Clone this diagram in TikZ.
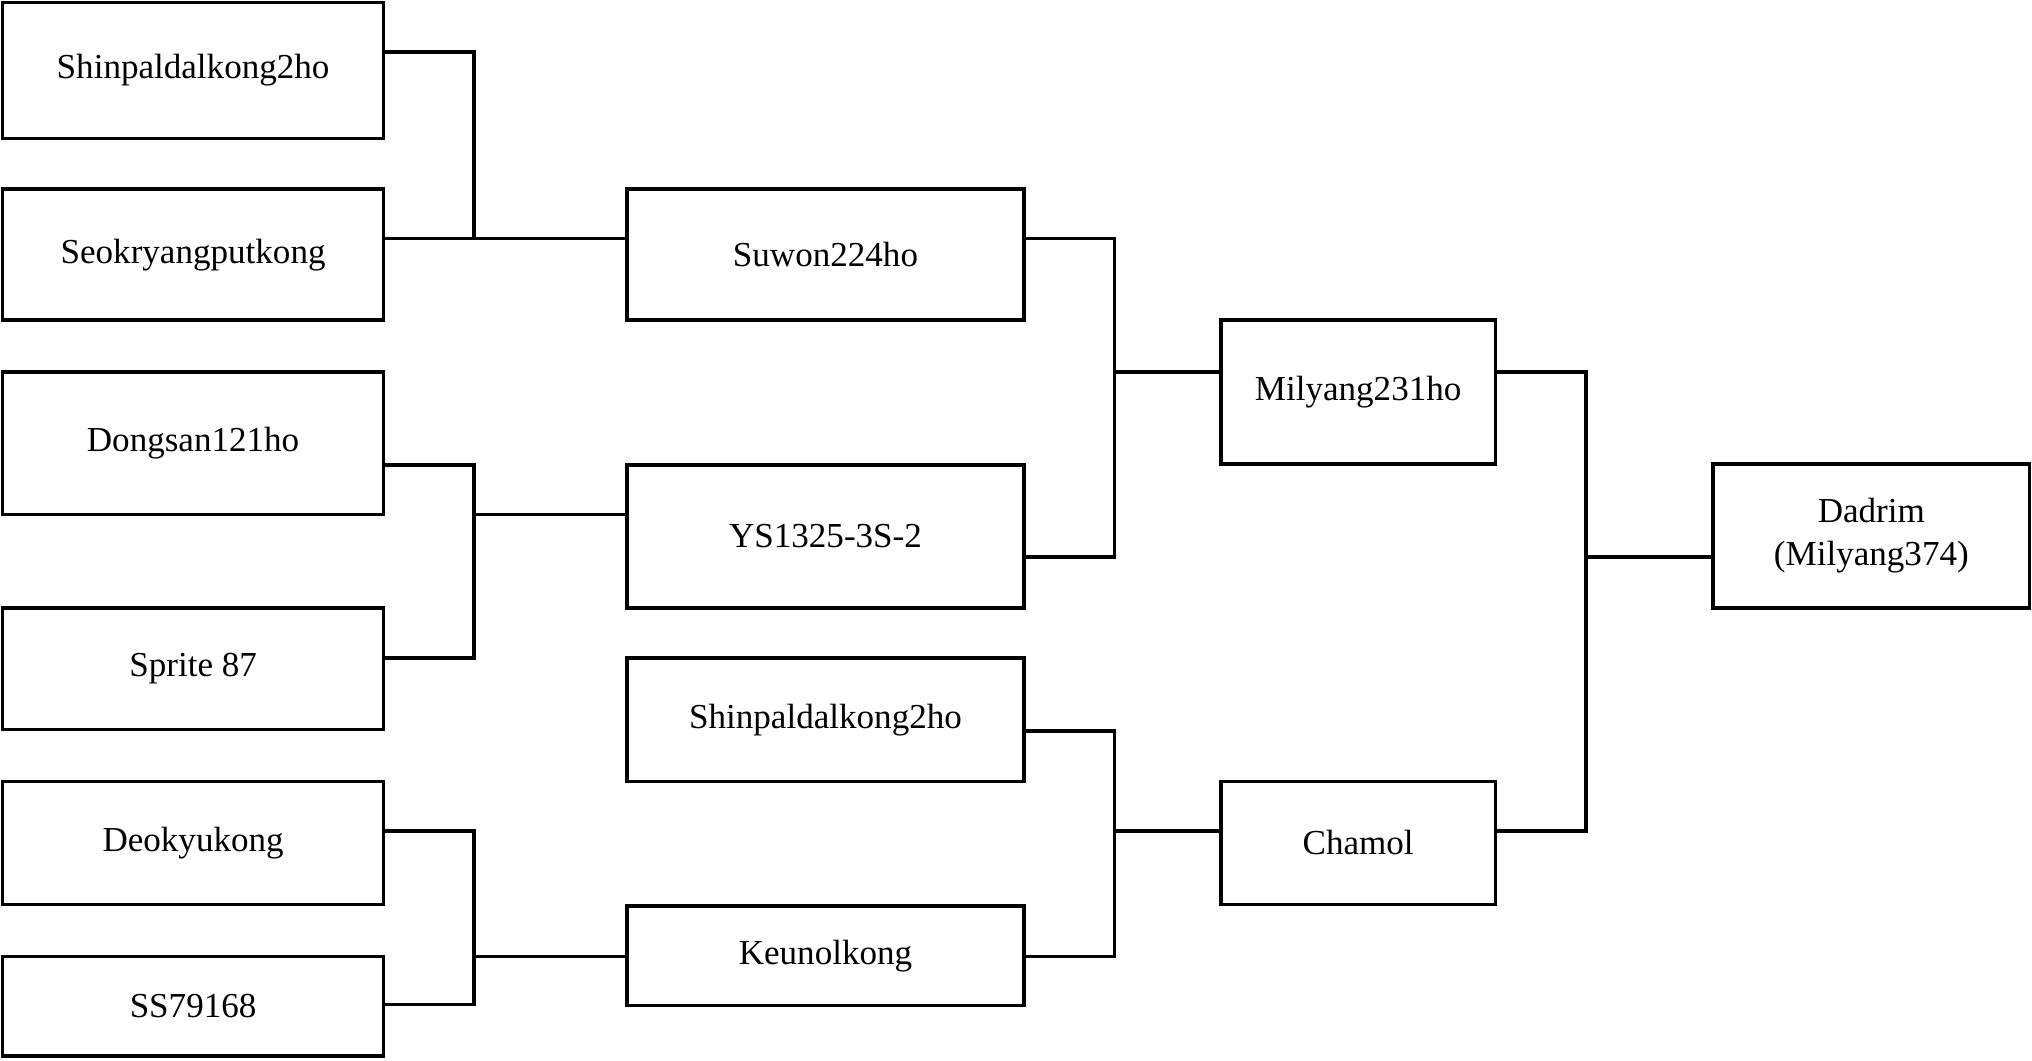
\documentclass[tikz,border=0pt]{standalone}
\usepackage{fontspec}
\setmainfont{Liberation Serif}
\usetikzlibrary{positioning, calc}

\begin{document}
\begin{tikzpicture}[
    box/.style={rectangle, draw, line width=0.8pt, inner sep=0pt, align=center, font=\fontsize{7.7}{9.5}\selectfont},
    link/.style={line width=0.8pt}
]
    \useasboundingbox (0,0) rectangle (15.68,-8.18);

    % first generation
    \node[box, minimum width=2.94cm, minimum height=1.05cm] (shin1) at (1.49,-0.545) {Shinpaldalkong2ho};
    \node[box, minimum width=2.94cm, minimum height=1.01cm] (seok) at (1.49,-1.965) {Seokryangputkong};
    \node[box, minimum width=2.94cm, minimum height=1.10cm] (dong) at (1.49,-3.42) {Dongsan121ho};
    \node[box, minimum width=2.94cm, minimum height=0.94cm] (sprite) at (1.49,-5.16) {Sprite 87};
    \node[box, minimum width=2.94cm, minimum height=0.95cm] (deok) at (1.49,-6.505) {Deokyukong};
    \node[box, minimum width=2.94cm, minimum height=0.77cm] (ss) at (1.49,-7.765) {SS79168};

    % second generation
    \node[box, minimum width=3.06cm, minimum height=1.01cm] (suwon) at (6.37,-1.965) {Suwon224ho};
    \node[box, minimum width=3.06cm, minimum height=1.10cm] (ys) at (6.37,-4.14) {YS1325-3S-2};
    \node[box, minimum width=3.06cm, minimum height=0.95cm] (shin2) at (6.37,-5.555) {Shinpaldalkong2ho};
    \node[box, minimum width=3.06cm, minimum height=0.77cm] (keun) at (6.37,-7.375) {Keunolkong};

    % third generation
    \node[box, minimum width=2.12cm, minimum height=1.11cm] (mil) at (10.48,-3.025) {Milyang231ho};
    \node[box, minimum width=2.12cm, minimum height=0.95cm] (cham) at (10.48,-6.505) {Chamol};

    % cultivar
    \node[box, minimum width=2.44cm, minimum height=1.11cm] (dad) at (14.44,-4.135) {Dadrim\\(Milyang374)};

    % junctions
    \coordinate (j1a) at (3.66,-0.40);
    \coordinate (j1b) at (3.66,-1.84);
    \coordinate (j2a) at (3.66,-3.59);
    \coordinate (j2b) at (3.66,-5.08);
    \coordinate (j2m) at (3.66,-3.97);
    \coordinate (j3a) at (3.66,-6.41);
    \coordinate (j3b) at (3.66,-7.75);
    \coordinate (j3m) at (3.66,-7.38);
    \coordinate (j4a) at (8.60,-1.84);
    \coordinate (j4b) at (8.60,-4.30);
    \coordinate (j4m) at (8.60,-2.87);
    \coordinate (j5a) at (8.60,-5.64);
    \coordinate (j5b) at (8.60,-7.38);
    \coordinate (j5m) at (8.60,-6.41);
    \coordinate (j6a) at (12.24,-2.87);
    \coordinate (j6b) at (12.24,-6.41);
    \coordinate (j6m) at (12.24,-4.30);

    \draw[link] (shin1.east |- j1a) -- (j1a) -- (j1b) -- (seok.east |- j1b);
    \draw[link] (j1b) -- (suwon.west |- j1b);
    \draw[link] (dong.east |- j2a) -- (j2a) -- (j2b) -- (sprite.east |- j2b);
    \draw[link] (j2m) -- (ys.west |- j2m);
    \draw[link] (deok.east |- j3a) -- (j3a) -- (j3b) -- (ss.east |- j3b);
    \draw[link] (j3m) -- (keun.west |- j3m);
    \draw[link] (suwon.east |- j4a) -- (j4a) -- (j4b) -- (ys.east |- j4b);
    \draw[link] (j4m) -- (mil.west |- j4m);
    \draw[link] (shin2.east |- j5a) -- (j5a) -- (j5b) -- (keun.east |- j5b);
    \draw[link] (j5m) -- (cham.west |- j5m);
    \draw[link] (mil.east |- j6a) -- (j6a) -- (j6b) -- (cham.east |- j6b);
    \draw[link] (j6m) -- (dad.west |- j6m);
\end{tikzpicture}
\end{document}
